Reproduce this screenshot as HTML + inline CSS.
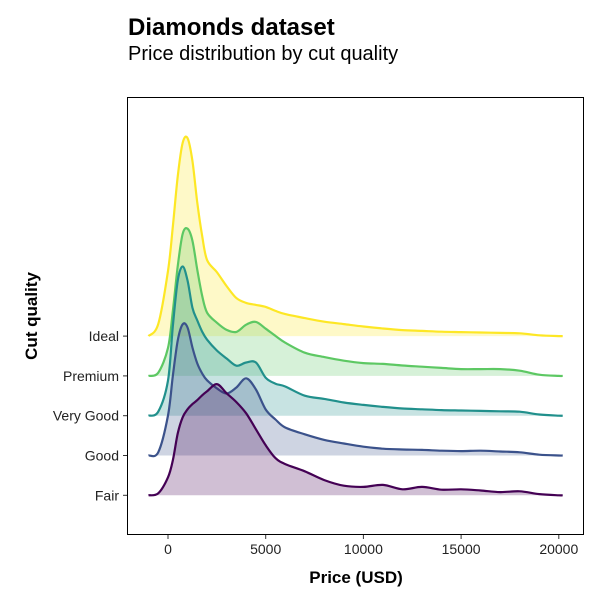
<!DOCTYPE html>
<html><head><meta charset="utf-8">
<style>
body{margin:0;background:#fff;width:600px;height:600px;overflow:hidden;font-family:"Liberation Sans",sans-serif;}
</style></head>
<body>
<svg id="chart" width="600" height="600" xmlns="http://www.w3.org/2000/svg">
  <text x="128" y="35" font-size="24" font-weight="bold" font-family="Liberation Sans, sans-serif">Diamonds dataset</text>
  <text x="128" y="60" font-size="20" font-family="Liberation Sans, sans-serif">Price distribution by cut quality</text>
  <g id="ridges"></g>
  <rect x="127.5" y="97.5" width="456" height="437" fill="none" stroke="#000" stroke-width="1"/>
  <g id="xaxis"></g>
  <g id="yaxis"></g>
  <text x="356" y="583" text-anchor="middle" font-size="17" font-weight="bold" font-family="Liberation Sans, sans-serif">Price (USD)</text>
  <text transform="translate(37,316) rotate(-90)" text-anchor="middle" font-size="17" font-weight="bold" font-family="Liberation Sans, sans-serif">Cut quality</text>
</svg>
<script>
const categories = ["Fair","Good","Very Good","Premium","Ideal"];
const colors = ["#440154","#3B528B","#21908C","#5DC863","#FDE725"];
const xTicks = [0,5000,10000,15000,20000];
const priceGrid = [-1000,-500,0,250,500,750,1000,1250,1500,1750,2000,2500,3000,3500,4000,4500,5000,5500,6000,7000,8000,9000,10000,11000,12000,13000,14000,15000,16000,17000,18000,19000,20000,20200];
const fairDensity =     [0,0.05,0.45,0.88,1.55,1.95,2.15,2.28,2.38,2.5,2.6,2.78,2.55,2.33,2.05,1.65,1.25,0.93,0.78,0.6,0.38,0.24,0.21,0.26,0.15,0.21,0.14,0.15,0.12,0.08,0.1,0.03,0,0];
const goodDensity =     [0,0.08,1.0,2.0,2.88,3.28,3.2,2.7,2.3,2.05,1.88,1.68,1.55,1.7,1.93,1.65,1.15,0.9,0.7,0.53,0.39,0.3,0.22,0.17,0.15,0.14,0.12,0.11,0.12,0.1,0.08,0.02,0,0];
const veryGoodDensity = [0,0.1,0.88,2.25,3.38,3.73,3.38,2.7,2.38,2.1,1.9,1.63,1.43,1.25,1.33,1.33,0.95,0.8,0.73,0.5,0.42,0.33,0.27,0.22,0.18,0.16,0.14,0.13,0.12,0.11,0.1,0.03,0,0];
const premiumDensity =  [0,0.08,0.7,1.63,2.75,3.55,3.68,3.38,2.65,2.0,1.58,1.33,1.15,1.1,1.28,1.35,1.18,1.0,0.83,0.58,0.47,0.38,0.32,0.3,0.26,0.23,0.2,0.17,0.17,0.17,0.13,0.03,0,0];
const idealDensity =    [0,0.3,1.63,2.75,4.0,4.83,4.95,4.38,3.33,2.5,1.9,1.6,1.25,0.95,0.83,0.78,0.73,0.63,0.55,0.45,0.36,0.3,0.24,0.19,0.15,0.13,0.11,0.1,0.09,0.08,0.07,0.02,0,0];
const densities = [fairDensity,goodDensity,veryGoodDensity,premiumDensity,idealDensity];

const NS="http://www.w3.org/2000/svg";
function xScale(v){return 168 + v*0.01954;}
function yBase(i){return 495.3 - i*39.8;}
function yVal(i,d){return yBase(i) - d*40;}

function smoothPath(pts){
  let s="M"+pts[0][0].toFixed(2)+","+pts[0][1].toFixed(2);
  for(let i=0;i<pts.length-1;i++){
    const p0=pts[Math.max(0,i-1)],p1=pts[i],p2=pts[i+1],p3=pts[Math.min(pts.length-1,i+2)];
    const c1x=p1[0]+(p2[0]-p0[0])/6,c1y=p1[1]+(p2[1]-p0[1])/6;
    const c2x=p2[0]-(p3[0]-p1[0])/6,c2y=p2[1]-(p3[1]-p1[1])/6;
    s+=" C"+c1x.toFixed(2)+","+c1y.toFixed(2)+" "+c2x.toFixed(2)+","+c2y.toFixed(2)+" "+p2[0].toFixed(2)+","+p2[1].toFixed(2);
  }
  return s;
}
const ridges=document.getElementById("ridges");
for(let i=categories.length-1;i>=0;i--){
  const pts=priceGrid.map((p,k)=>[xScale(p),yVal(i,densities[i][k])]);
  const line=smoothPath(pts);
  const fill=document.createElementNS(NS,"path");
  fill.setAttribute("d",line+" L"+xScale(priceGrid[priceGrid.length-1])+","+yBase(i)+" L"+xScale(priceGrid[0])+","+yBase(i)+" Z");
  fill.setAttribute("fill",colors[i]);
  fill.setAttribute("fill-opacity","0.25");
  
  
  ridges.appendChild(fill);
  const path=document.createElementNS(NS,"path");
  path.setAttribute("d",line);
  path.setAttribute("fill","none");
  path.setAttribute("stroke",colors[i]);
  path.setAttribute("stroke-width","2.2");
  
  
  ridges.appendChild(path);
}
const xa=document.getElementById("xaxis");
xTicks.forEach(t=>{
  const x=xScale(t);
  const l=document.createElementNS(NS,"line");
  l.setAttribute("x1",x);l.setAttribute("x2",x);l.setAttribute("y1",535);l.setAttribute("y2",539);
  l.setAttribute("stroke","#333");
  
  
  xa.appendChild(l);
  const tx=document.createElementNS(NS,"text");
  tx.setAttribute("x",x);tx.setAttribute("y",554);tx.setAttribute("text-anchor","middle");
  tx.setAttribute("font-size","14");tx.setAttribute("fill","#222");
  tx.textContent=t;
  
  
  xa.appendChild(tx);
});
const ya=document.getElementById("yaxis");
categories.forEach((c,i)=>{
  const y=yBase(i);
  const l=document.createElementNS(NS,"line");
  l.setAttribute("x1",123);l.setAttribute("x2",127);l.setAttribute("y1",y);l.setAttribute("y2",y);
  l.setAttribute("stroke","#333");
  
  
  ya.appendChild(l);
  const tx=document.createElementNS(NS,"text");
  tx.setAttribute("x",119);tx.setAttribute("y",y+5);tx.setAttribute("text-anchor","end");
  tx.setAttribute("font-size","14");tx.setAttribute("fill","#222");
  tx.textContent=c;
  
  
  ya.appendChild(tx);
});
</script>
</body></html>
